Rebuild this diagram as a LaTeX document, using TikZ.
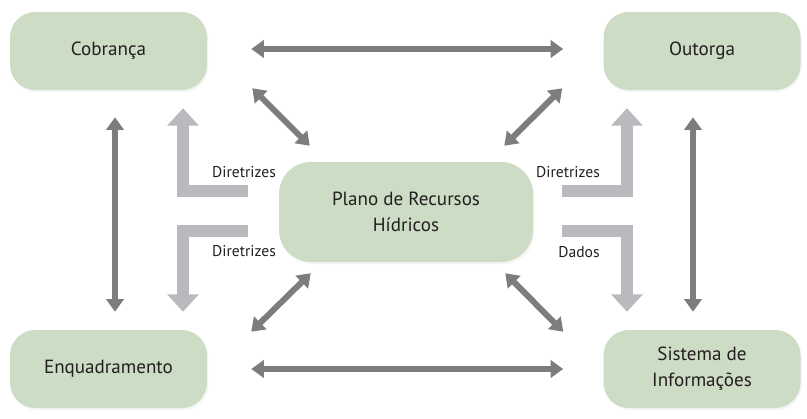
\documentclass[tikz,border=0pt]{standalone}
\usepackage{fontspec}
\setmainfont{PT Sans}
\usepackage{tikz}
\usepackage{xcolor}
\usetikzlibrary{arrows.meta,shadows}

\definecolor{boxgreen}{RGB}{205,220,196}
\definecolor{darkgray}{RGB}{125,125,128}
\definecolor{lightgray}{RGB}{184,186,190}
\definecolor{textdark}{RGB}{35,31,32}

\begin{document}
\begin{tikzpicture}[x=0.75pt,y=-0.75pt,
    box/.style={fill=boxgreen, rounded corners=19pt, minimum width=147.75pt,
      minimum height=58.5pt, align=center, text=textdark,
      font=\fontsize{14.3}{19.5}\selectfont,
      drop shadow={shadow xshift=1pt, shadow yshift=-1.5pt, opacity=0.08}},
    linkarrow/.style={draw=darkgray, line width=4.5pt,
      {Triangle[length=9.5pt,width=13pt]}-{Triangle[length=9.5pt,width=13pt]}},
    flowarrow/.style={draw=lightgray, line width=9.5pt,
      -{Triangle[length=13pt,width=23pt]}},
    flowlabel/.style={text=textdark, font=\fontsize{11.7}{14}\selectfont}]
        \useasboundingbox (0,0) rectangle (807,418);

        % boxes
        \node[box] (cob) at (108.5,51) {Cobrança};
        \node[box] (out) at (702,51) {Outorga};
        \node[box] (enq) at (108.5,369) {Enquadramento};
        \node[box] (sis) at (702,369) {Sistema de\\Informações};
        \node[box, minimum width=190.5pt, minimum height=75pt, rounded corners=24pt]
          (plano) at (406,212) {Plano de Recursos\\Hídricos};

        % links between instruments
        \draw[linkarrow] ([shift={(44,-2)}]cob.east) -- ([shift={(-40,-2)}]out.west);
        \draw[linkarrow] ([shift={(44,0)}]enq.east) -- ([shift={(-40,0)}]sis.west);
        \draw[linkarrow] ([shift={(6.5,27)}]cob.south) -- ([shift={(6.5,-18)}]enq.north);
        \draw[linkarrow] ([shift={(-9,27)}]out.south) -- ([shift={(-9,-18)}]sis.north);

        % links to the plan
        \draw[linkarrow] ([shift={(45,-2)}]cob.south east) -- ([shift={(31,-16)}]plano.north west);
        \draw[linkarrow] ([shift={(-41,-2)}]out.south west) -- ([shift={(-29,-16)}]plano.north east);
        \draw[linkarrow] ([shift={(44,2)}]enq.north east) -- ([shift={(32,11)}]plano.south west);
        \draw[linkarrow] ([shift={(-40,2)}]sis.north west) -- ([shift={(-28,11)}]plano.south east);

        % flows from the plan
        \draw[flowarrow] ([shift={(-31,-21)}]plano.west) -| ([shift={(74.5,18)}]cob.south);
        \draw[flowarrow] ([shift={(-31,19)}]plano.west) -| ([shift={(74.5,-18)}]enq.north);
        \draw[flowarrow] ([shift={(29,-21)}]plano.east) -| ([shift={(-75,18)}]out.south);
        \draw[flowarrow] ([shift={(29,19)}]plano.east) -| ([shift={(-75,-18)}]sis.north);

        % labels
        \node[flowlabel] (lcob) at (244,172) {Diretrizes};
        \node[flowlabel] (lenq) at (244,251) {Diretrizes};
        \node[flowlabel] (lout) at (568,172) {Diretrizes};
        \node[flowlabel] (lsis) at (579,252) {Dados};
    \end{tikzpicture}
\end{document}
